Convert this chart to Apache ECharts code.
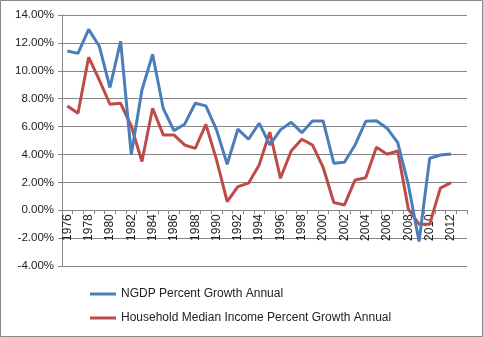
<!DOCTYPE html>
<html>
<head>
<meta charset="utf-8">
<script src="https://cdn.jsdelivr.net/npm/echarts@6/dist/echarts.min.js"></script>
<style>
  html, body { margin: 0; padding: 0; background: #fff; }
  #chart { width: 483px; height: 337px; }
</style>
</head>
<body>
<div id="chart"></div>
<script>
// Years on the category axis (2013 slot left empty, as in the source workbook)
const years = [];
for (let y = 1976; y <= 2013; y++) years.push(String(y));

// Annual percent growth, 1976-2012
const ngdpGrowth = [
  11.42, 11.25, 12.97, 11.76, 8.80, 12.12, 3.98, 8.62, 11.18, 7.30,
  5.71, 6.16, 7.67, 7.48, 5.76, 3.30, 5.81, 5.09, 6.24, 4.68,
  5.76, 6.31, 5.56, 6.40, 6.40, 3.37, 3.44, 4.68, 6.38, 6.42,
  5.88, 4.85, 1.81, -2.25, 3.73, 3.96, 4.04
];
const medianIncomeGrowth = [
  7.48, 6.95, 10.97, 9.34, 7.60, 7.67, 6.04, 3.49, 7.31, 5.40,
  5.40, 4.68, 4.44, 6.16, 3.61, 0.62, 1.69, 1.94, 3.25, 5.60,
  2.29, 4.25, 5.09, 4.68, 3.08, 0.55, 0.38, 2.17, 2.33, 4.51,
  4.01, 4.25, 0.07, -1.00, -1.00, 1.58, 1.98
];
const seriesNames = [
  'NGDP Percent Growth Annual',
  'Household Median Income Percent Growth Annual'
];

const yMin = -4, yMax = 14;
const gridTop = 15, gridBottom = 71, chartHeight = 337;
// Lift the category axis so it sits on the 0% line
const plotHeight = chartHeight - gridTop - gridBottom;
const zeroOffset = -plotHeight * (0 - yMin) / (yMax - yMin);

const chart = echarts.init(document.getElementById('chart'), null, { renderer: 'canvas' });
const font = 'Liberation Sans, Arial, sans-serif';

chart.setOption({
  backgroundColor: '#ffffff',
  animation: false,
  graphic: [{
    type: 'rect',
    shape: { x: 0.5, y: 0.5, width: 482, height: 336 },
    style: { fill: 'none', stroke: '#888888', lineWidth: 1 },
    silent: true
  }],
  grid: { left: 62, right: 16, top: gridTop, bottom: gridBottom, containLabel: false },
  legend: {
    orient: 'vertical',
    left: 90,
    top: 288,
    padding: 0,
    itemWidth: 26,
    itemHeight: 3,
    itemGap: 12,
    icon: 'rect',
    textStyle: { fontFamily: font, fontSize: 12, color: '#222' },
    data: seriesNames
  },
  xAxis: {
    type: 'category',
    data: years,
    boundaryGap: true,
    position: 'bottom',
    offset: zeroOffset,
    axisLine: { onZero: false, lineStyle: { color: '#868686', width: 1 } },
    axisTick: { show: true, interval: 0, length: 4, lineStyle: { color: '#868686' } },
    axisLabel: {
      interval: 1,
      rotate: 90,
      margin: 4,
      fontFamily: font,
      fontSize: 12,
      color: '#222'
    },
    splitLine: { show: false }
  },
  yAxis: {
    type: 'value',
    min: yMin,
    max: yMax,
    interval: 2,
    axisLine: { show: true, lineStyle: { color: '#868686', width: 1 } },
    axisTick: { show: true, length: 4, lineStyle: { color: '#868686' } },
    axisLabel: {
      formatter: v => v.toFixed(2) + '%',
      margin: 8,
      fontFamily: font,
      fontSize: 11.5,
      color: '#222'
    },
    splitLine: { show: true, lineStyle: { color: '#868686', width: 1 } }
  },
  series: [
    {
      name: seriesNames[0],
      type: 'line',
      data: ngdpGrowth,
      symbol: 'none',
      lineStyle: { color: '#4a7ebb', width: 3 },
      itemStyle: { color: '#4a7ebb' },
      z: 3
    },
    {
      name: seriesNames[1],
      type: 'line',
      data: medianIncomeGrowth,
      symbol: 'none',
      lineStyle: { color: '#be4b48', width: 3 },
      itemStyle: { color: '#be4b48' },
      z: 2
    }
  ]
});
</script>
</body>
</html>
